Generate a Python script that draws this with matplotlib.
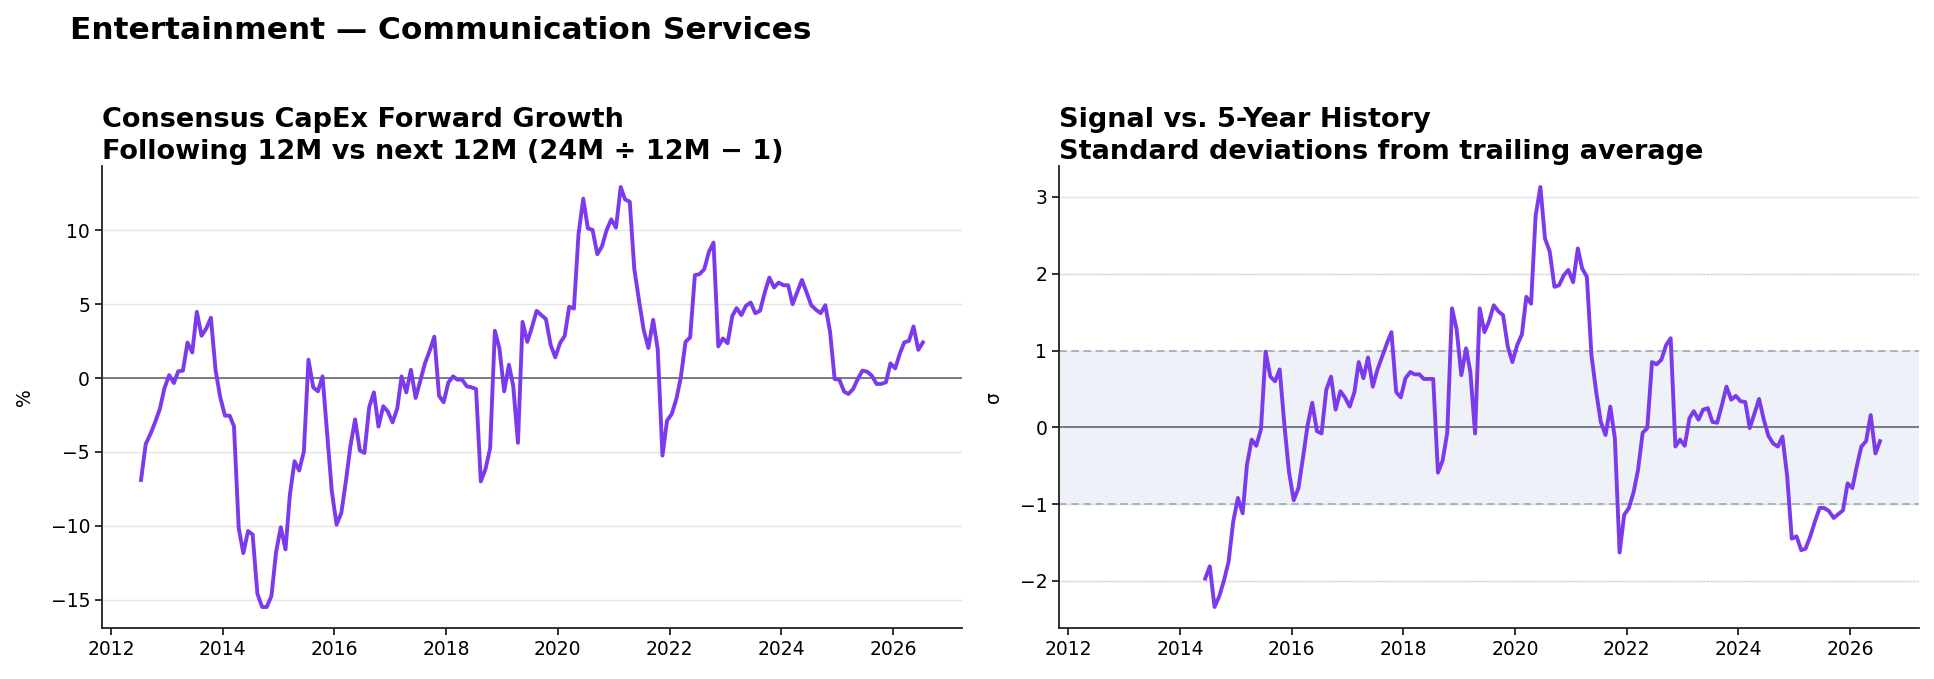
import numpy as np
import pandas as pd
import matplotlib
matplotlib.use("Agg")
import matplotlib.pyplot as plt
import matplotlib.dates as mdates

# Monthly observations, Jul 2012 .. Jul 2026
dates = pd.date_range("2012-07-01", periods=169, freq="MS") + pd.Timedelta(days=14)

# Consensus CapEx forward growth, %
growth = [
    -6.9, -4.46, -3.78, -3.0, -2.1, -0.7, 0.2, -0.34, 0.45, 0.5,
    2.4, 1.73, 4.48, 2.86, 3.36, 4.08, 0.5, -1.3, -2.55, -2.55,
    -3.27, -10.16, -11.85, -10.36, -10.6, -14.6, -15.5, -15.5, -14.75, -11.8,
    -10.1, -11.6, -7.95, -5.63, -6.26, -4.98, 1.24, -0.63, -0.9, 0.11,
    -3.9, -7.7, -9.93, -9.12, -7.05, -4.57, -2.8, -4.9, -5.07, -1.98,
    -0.97, -3.29, -1.91, -2.27, -3.0, -2.05, 0.11, -0.97, 0.56, -1.35,
    -0.18, 1.0, 1.85, 2.8, -1.2, -1.64, -0.3, 0.11, -0.11, -0.11,
    -0.56, -0.63, -0.74, -7.0, -6.15, -4.75, 3.2, 2.0, -0.9, 0.9,
    -0.52, -4.39, 3.8, 2.45, 3.42, 4.55, 4.26, 3.99, 2.23, 1.4,
    2.36, 2.86, 4.82, 4.7, 9.73, 12.14, 10.14, 10.02, 8.38, 8.9,
    10.02, 10.74, 10.18, 12.93, 12.09, 11.94, 7.36, 5.23, 3.27, 2.03,
    3.94, 1.96, -5.25, -2.88, -2.43, -1.37, 0.05, 2.45, 2.75, 6.96,
    7.03, 7.36, 8.54, 9.17, 2.14, 2.68, 2.36, 4.21, 4.73, 4.26,
    4.89, 5.11, 4.39, 4.55, 5.79, 6.8, 6.13, 6.46, 6.28, 6.28,
    5.0, 5.83, 6.64, 5.79, 4.93, 4.62, 4.39, 4.93, 3.13, -0.07,
    -0.11, -0.92, -1.08, -0.74, -0.07, 0.5, 0.43, 0.16, -0.4, -0.4,
    -0.29, 0.99, 0.65, 1.67, 2.41, 2.52, 3.49, 1.91, 2.41,
]

# z-score vs trailing history (starts Jun 2014)
zscore = [
    -1.97, -1.81, -2.34, -2.2, -2.0, -1.75, -1.23, -0.92, -1.12, -0.49,
    -0.16, -0.24, -0.02, 0.985, 0.66, 0.6, 0.755, 0.03, -0.58, -0.95,
    -0.79, -0.4, 0.03, 0.32, -0.05, -0.08, 0.49, 0.66, 0.23, 0.47,
    0.39, 0.27, 0.46, 0.85, 0.64, 0.91, 0.53, 0.75, 0.92, 1.09,
    1.24, 0.46, 0.39, 0.64, 0.72, 0.69, 0.69, 0.63, 0.63, 0.63,
    -0.59, -0.43, -0.07, 1.55, 1.28, 0.68, 1.03, 0.72, -0.08, 1.55,
    1.24, 1.38, 1.59, 1.51, 1.46, 1.05, 0.85, 1.07, 1.21, 1.70,
    1.61, 2.76, 3.13, 2.46, 2.29, 1.83, 1.85, 1.98, 2.05, 1.89,
    2.33, 2.07, 1.96, 0.94, 0.46, 0.07, -0.1, 0.27, -0.14, -1.63,
    -1.14, -1.05, -0.84, -0.56, -0.07, -0.01, 0.85, 0.82, 0.88, 1.07,
    1.16, -0.25, -0.16, -0.24, 0.12, 0.21, 0.1, 0.23, 0.25, 0.07,
    0.06, 0.29, 0.53, 0.36, 0.41, 0.34, 0.33, -0.01, 0.18, 0.37,
    0.1, -0.11, -0.21, -0.25, -0.12, -0.64, -1.45, -1.42, -1.6, -1.58,
    -1.42, -1.23, -1.05, -1.05, -1.09, -1.18, -1.13, -1.08, -0.73, -0.79,
    -0.49, -0.25, -0.18, 0.16, -0.34, -0.18,
]
z_dates = dates[len(dates) - len(zscore):]

PURPLE = "#7c3aed"
ZERO = "#6b7280"

plt.rcParams["font.family"] = "DejaVu Sans"
fig = plt.figure(figsize=(19.34, 6.79), dpi=100)
ax1 = fig.add_axes([0.0527, 0.0751, 0.4447, 0.6804])
ax2 = fig.add_axes([0.5476, 0.0751, 0.4447, 0.6804], sharex=ax1)

fig.text(0.0362, 1 - 30.5 / 679, "Entertainment \u2014 Communication Services",
         fontsize=22.5, fontweight="bold", ha="left", va="center")

# left: growth
ax1.plot(dates, growth, color=PURPLE, lw=2.8, zorder=3)
ax1.axhline(0, color=ZERO, lw=1.3, zorder=2)
ax1.set_ylabel("%", fontsize=13.5, labelpad=12)
ax1.set_title("Consensus CapEx Forward Growth\nFollowing 12M vs next 12M (24M \u00f7 12M \u2212 1)",
              loc="left", fontsize=19.5, fontweight="bold", pad=5, linespacing=1.3)

# right: z-score
ax2.axhspan(-1, 1, color="#eef2f8", zorder=0)
for lvl in (1, -1):
    ax2.axhline(lvl, color="#94a3b8", lw=1.1, ls=(0, (5, 3)), zorder=1)
for lvl in (2, -2):
    ax2.axhline(lvl, color="#cbd5e1", lw=1.0, ls=":", zorder=1)
ax2.axhline(0, color=ZERO, lw=1.3, zorder=2)
ax2.plot(z_dates, zscore, color=PURPLE, lw=2.8, zorder=3)
ax2.set_ylabel("\u03c3", fontsize=13.5, labelpad=12)
ax2.set_title("Signal vs. 5-Year History\nStandard deviations from trailing average",
              loc="left", fontsize=19.5, fontweight="bold", pad=5, linespacing=1.3)

for ax in (ax1, ax2):
    ax.grid(axis="y", color="#e3e3e8", lw=1.0, zorder=0)
    ax.set_axisbelow(True)
    ax.spines["top"].set_visible(False)
    ax.spines["right"].set_visible(False)
    for s in ("left", "bottom"):
        ax.spines[s].set_color("#222222")
        ax.spines[s].set_linewidth(1.3)
    ax.tick_params(labelsize=13.5, length=5, width=1.3, color="#222222")
    ax.xaxis.set_major_locator(mdates.YearLocator(2))
    ax.xaxis.set_major_formatter(mdates.DateFormatter("%Y"))

fig.savefig("out.png", dpi=100)
